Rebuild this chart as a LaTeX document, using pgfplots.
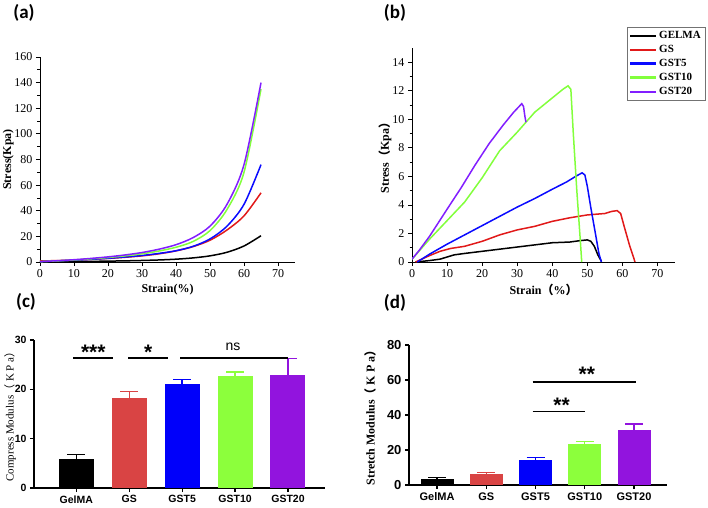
\documentclass[border=0pt]{standalone}
\usepackage{fontspec}
\setmainfont{Liberation Serif}
\setsansfont{Liberation Sans}
\newfontfamily\carlito{Carlito}
\newfontfamily\cjk{Noto Sans CJK SC}
\usepackage{pgfplots}
\pgfplotsset{compat=1.18}
\definecolor{cRed}{RGB}{225,25,25}
\definecolor{cBlue}{RGB}{10,10,255}
\definecolor{cGreen}{RGB}{130,255,60}
\definecolor{cPurple}{RGB}{130,30,255}
\definecolor{bRed}{RGB}{217,68,68}
\definecolor{bBlue}{RGB}{0,0,250}
\definecolor{bGreen}{RGB}{140,255,60}
\definecolor{bPurple}{RGB}{146,20,222}
\pgfplotsset{legend image code/.code={\draw[#1] (0pt,0pt) -- (26pt,0pt);}}
\pgfplotsset{
  curveaxis/.style={
    scale only axis, anchor=south west,
    axis lines=left, axis line style={-, line width=0.9pt},
    tick align=outside, major tick length=4pt, minor tick length=2.5pt,
    tick style={black, line width=0.8pt},
    ticklabel style={font=\fontsize{12}{12}\selectfont},
    /pgf/number format/assume math mode=true,
    label style={font=\bfseries\fontsize{12}{12}\selectfont},
  },
  baraxis/.style={
    scale only axis, anchor=south west,
    axis lines=left, axis line style={-, line width=1.4pt},
    tick align=outside, major tick length=4pt,
    tick style={black, line width=1.2pt},
    xtick={0,1,2,3,4}, xticklabels={GelMA,GS,GST5,GST10,GST20},
    /pgf/number format/assume math mode=true,
    clip=false,
  },
  bars/.style={ybar, bar shift=0pt, draw=none, fill=#1,
    error bars/.cd, y dir=plus, y explicit, error mark=|,
    error bar style={line width=1.3pt, #1},
    error mark options={mark size=9pt, line width=1.3pt, #1}},
}
\begin{document}
\begin{tikzpicture}[x=1pt,y=1pt]
\useasboundingbox (0,0) rectangle (708,-507);
\node[font=\carlito\bfseries\fontsize{19}{19}\selectfont] at (24,-13) {(a)};
\node[font=\carlito\bfseries\fontsize{19}{19}\selectfont] at (395,-13) {(b)};
\node[font=\carlito\bfseries\fontsize{19}{19}\selectfont] at (26,-302) {(c)};
\node[font=\carlito\bfseries\fontsize{19}{19}\selectfont] at (395,-303) {(d)};

% (a)
\begin{axis}[curveaxis,
  at={(40pt,-262pt)}, width=255pt, height=205pt,
  xmin=0, xmax=75, ymin=0, ymax=160,
  xtick={0,10,...,70}, ytick={0,20,...,160}, minor y tick num=1,
  xlabel={Strain(\%)}, ylabel={Stress(Kpa)},
  ylabel style={at={(axis description cs:-0.125,0.5)}, anchor=center},
]
\addplot[draw=black, line width=1.5pt, smooth] coordinates {(0,0.3)(5,0.3)(10,0.4)(15,0.5)(20,0.7)(25,0.9)(30,1.2)(35,1.6)(40,2.2)(45,3.2)(50,4.8)(55,7.6)(60,12.5)(65,20.5)};
\addplot[draw=cRed, line width=1.5pt, smooth] coordinates {(0,0.8)(5,1.1)(10,1.5)(15,2.1)(20,2.8)(25,3.7)(30,4.8)(35,6.4)(40,8.7)(45,12)(50,17)(55,25)(60,36)(65,54)};
\addplot[draw=cBlue, line width=1.5pt, smooth] coordinates {(0,0.3)(5,0.8)(10,1.4)(15,2.1)(20,2.9)(25,3.9)(30,5.1)(35,6.7)(40,8.8)(45,12.2)(50,18)(55,28)(60,45)(65,76)};
\addplot[draw=cGreen, line width=1.5pt, smooth] coordinates {(0,0.3)(5,0.9)(10,1.6)(15,2.5)(20,3.5)(25,4.8)(30,6.4)(35,8.6)(40,11.5)(45,16)(50,24.5)(55,41)(60,70)(65,135)};
\addplot[draw=cPurple, line width=1.5pt, smooth] coordinates {(0,0.3)(5,1.0)(10,1.8)(15,2.8)(20,4.0)(25,5.5)(30,7.4)(35,10)(40,13.5)(45,19)(50,28)(55,45)(60,76)(65,140)};
\end{axis}

% (b)
\begin{axis}[curveaxis,
  at={(412pt,-262pt)}, width=263pt, height=214pt,
  xmin=0, xmax=75, ymin=0, ymax=15,
  xtick={0,10,...,70}, ytick={0,2,...,14}, minor y tick num=1,
  xlabel={Strain{\cjk{（}}\%{\cjk{）}}}, ylabel={Stress{\cjk{（}}Kpa{\cjk{）}}},
  ylabel style={at={(axis description cs:-0.103,0.5)}, anchor=center},
  legend style={at={(1.114,1.098)}, anchor=north east, draw=black!55,
    font=\bfseries\fontsize{11}{11}\selectfont, row sep=1.2pt, inner sep=2pt,
    cells={anchor=west}},
  legend image post style={line width=2.2pt},
]
\addplot[draw=black, line width=1.5pt] coordinates {(1,0)(5,0.1)(8,0.2)(12,0.5)(15,0.6)(20,0.75)(25,0.9)(30,1.05)(35,1.2)(40,1.35)(45,1.4)(48,1.5)(50,1.55)(51,1.45)(52,1.1)(53,0.5)(54,0.05)};
\addlegendentry{GELMA}
\addplot[draw=cRed, line width=1.5pt] coordinates {(1,0)(5,0.45)(8,0.75)(11,0.95)(15,1.1)(20,1.45)(25,1.9)(30,2.25)(35,2.5)(40,2.85)(45,3.1)(50,3.3)(55,3.4)(57,3.55)(58.5,3.6)(59.5,3.4)(60.5,2.5)(62,1.2)(63.6,0)};
\addlegendentry{GS}
\addplot[draw=cBlue, line width=1.5pt] coordinates {(1.5,0)(5,0.55)(10,1.25)(15,1.9)(20,2.55)(25,3.2)(30,3.85)(35,4.45)(40,5.1)(44,5.6)(47,6.05)(48.5,6.25)(49.3,6.1)(50,5.3)(51,3.8)(52.3,2)(53.3,0.6)(54,0)};
\addlegendentry{GST5}
\addplot[draw=cGreen, line width=1.5pt] coordinates {(0,0.2)(5,1.6)(10,2.9)(15,4.2)(20,5.9)(25,7.8)(30,9.1)(35,10.5)(40,11.5)(43,12.1)(44.5,12.35)(45.3,12.1)(46,9)(47,5)(48,1.5)(48.4,0)};
\addlegendentry{GST10}
\addplot[draw=cPurple, line width=1.5pt] coordinates {(0,0.2)(2,0.8)(5,1.8)(10,3.7)(14,5.2)(18,6.8)(22,8.3)(26,9.6)(29,10.5)(31.3,11.1)(31.8,10.9)(32.2,10.2)(32.5,9.8)};
\addlegendentry{GST20}
\end{axis}

% (c)
\begin{axis}[baraxis,
  at={(34pt,-488pt)}, width=291pt, height=148pt,
  xmin=-0.8, xmax=4.7, ymin=0, ymax=30, ytick={0,10,20,30},
  ticklabel style={font=\sffamily\bfseries\fontsize{10.5}{10.5}\selectfont},
  ylabel={Compress Modulus{\cjk{（}} K P a{\cjk{）}}},
  ylabel style={font=\fontsize{11}{11}\selectfont, at={(axis description cs:-0.082,0.5)}, anchor=center},
]
\addplot[bar width=35pt, bars=black] coordinates {(0,5.8) +- (0,1.0)};
\addplot[bar width=35pt, bars=bRed] coordinates {(1,18.2) +- (0,1.3)};
\addplot[bar width=35pt, bars=bBlue] coordinates {(2,21.0) +- (0,1.0)};
\addplot[bar width=35pt, bars=bGreen] coordinates {(3,22.7) +- (0,0.8)};
\addplot[bar width=35pt, bars=bPurple] coordinates {(4,22.9) +- (0,3.4)};
\draw[line width=1.6pt] (axis cs:-0.06,26.3) -- (axis cs:0.70,26.3);
\draw[line width=1.6pt] (axis cs:0.98,26.3) -- (axis cs:1.74,26.3);
\draw[line width=1.6pt] (axis cs:1.96,26.3) -- (axis cs:4.0,26.3);
\node[anchor=base, font=\sffamily\bfseries\fontsize{21}{21}\selectfont] at (axis cs:0.32,26.0) {***};
\node[anchor=base, font=\sffamily\bfseries\fontsize{21}{21}\selectfont] at (axis cs:1.36,26.0) {*};
\node[anchor=base, font=\sffamily\fontsize{14}{14}\selectfont] at (axis cs:2.96,27.9) {ns};
\end{axis}

% (d)
\begin{axis}[baraxis,
  at={(409pt,-485pt)}, width=258pt, height=140pt,
  xmin=-0.57, xmax=4.67, ymin=0, ymax=80, ytick={0,20,...,80},
  yticklabel style={font=\sffamily\bfseries\fontsize{13}{13}\selectfont},
  xticklabel style={font=\sffamily\bfseries\fontsize{11}{11}\selectfont},
  ylabel={Stretch Modulus{\cjk{（}} K P a{\cjk{）}}},
  ylabel style={font=\bfseries\fontsize{12}{12}\selectfont, at={(axis description cs:-0.151,0.5)}, anchor=center},
]
\addplot[bar width=33pt, bars=black] coordinates {(0,3.5) +- (0,0.6)};
\addplot[bar width=33pt, bars=bRed] coordinates {(1,6.2) +- (0,1.0)};
\addplot[bar width=33pt, bars=bBlue] coordinates {(2,14.5) +- (0,1.2)};
\addplot[bar width=33pt, bars=bGreen] coordinates {(3,23.4) +- (0,1.5)};
\addplot[bar width=33pt, bars=bPurple] coordinates {(4,31.5) +- (0,3.3)};
\draw[line width=1.8pt] (axis cs:1.94,59) -- (axis cs:4.04,59);
\draw[line width=1.8pt] (axis cs:1.94,42) -- (axis cs:3.0,42);
\node[anchor=base, font=\sffamily\bfseries\fontsize{21}{21}\selectfont] at (axis cs:3.04,59.4) {**};
\node[anchor=base, font=\sffamily\bfseries\fontsize{21}{21}\selectfont] at (axis cs:2.53,41.7) {**};
\end{axis}
\end{tikzpicture}
\end{document}
